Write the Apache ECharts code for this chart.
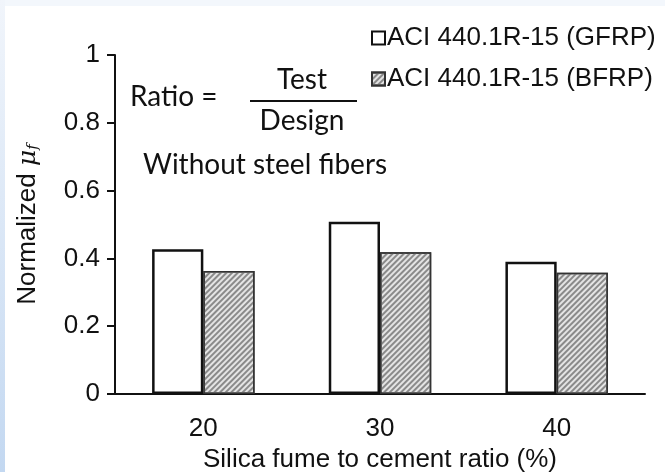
<!doctype html>
<html>
<head>
<meta charset="utf-8">
<script src="https://cdn.jsdelivr.net/npm/echarts@6/dist/echarts.min.js"></script>
<style>
  html,body{margin:0;padding:0;background:#fff}
  #chart{width:665px;height:472px}
</style>
</head>
<body>
<div id="chart"></div>
<script>
// silica fume to cement ratio (%)
const categories = ['20', '30', '40'];
// normalized friction coefficient, test / design
const gfrpValues = [0.427, 0.508, 0.390];
const bfrpValues = [0.363, 0.418, 0.358];
const seriesNames = ['ACI 440.1R-15 (GFRP)', 'ACI 440.1R-15 (BFRP)'];
const yTicks = [0, 0.2, 0.4, 0.6, 0.8, 1];

const font = 'Liberation Sans, Arial, sans-serif';
const noteFont = 'Lato, "Open Sans", sans-serif';

const chart = echarts.init(document.getElementById('chart'), null, { renderer: 'canvas' });

const hatch = {
  symbol: 'rect',
  color: '#8a8a8a',
  dashArrayX: [1, 0],
  dashArrayY: [1.2, 1.8],
  rotation: -Math.PI / 4,
  symbolSize: 1
};

chart.setOption({
  backgroundColor: '#fff',
  animation: false,
  textStyle: { fontFamily: font },
  grid: { left: 115, right: 20, top: 55, bottom: 78, outerBoundsMode: 'none', containLabel: false },
  legend: {
    orient: 'vertical',
    left: 366,
    top: 20,
    itemGap: 15,
    itemWidth: 13,
    itemHeight: 13,
    icon: 'rect',
    data: seriesNames,
    textStyle: { fontFamily: font, fontSize: 26, color: '#111', padding: [0, 0, 0, -3] }
  },
  xAxis: {
    type: 'category',
    data: categories,
    name: 'Silica fume to cement ratio (%)',
    nameLocation: 'middle',
    nameGap: 43,
    nameTextStyle: { fontFamily: font, fontSize: 26, color: '#111', verticalAlign: 'top' },
    axisLine: { lineStyle: { color: '#111', width: 2 } },
    axisTick: { length: 9, lineStyle: { color: '#111', width: 2 } },
    axisLabel: { fontSize: 26, color: '#111', margin: 22 }
  },
  yAxis: {
    type: 'value',
    min: yTicks[0],
    max: yTicks[yTicks.length - 1],
    interval: 0.2,
    name: '{n|Normalized }{m|μ}{s|f}',
    nameLocation: 'middle',
    nameGap: 74,
    nameRotate: 90,
    nameTextStyle: {
      rich: {
        n: { fontFamily: font, fontSize: 26, color: '#111' },
        m: { fontFamily: 'DejaVu Serif, serif', fontStyle: 'italic', fontSize: 25, color: '#111' },
        s: { fontFamily: 'DejaVu Serif, serif', fontStyle: 'italic', fontSize: 15, color: '#111', verticalAlign: 'bottom', padding: [10, 0, 0, 0] }
      }
    },
    axisLine: { show: true, lineStyle: { color: '#111', width: 2 } },
    axisTick: { show: true, inside: false, length: 8, lineStyle: { color: '#111', width: 2 } },
    splitLine: { show: false },
    axisLabel: {
      fontSize: 26, color: '#111', margin: 15,
      formatter: v => String(Math.round(v * 10) / 10)
    }
  },
  series: [
    {
      name: seriesNames[0],
      type: 'bar',
      data: gfrpValues,
      barGap: '0%',
      barCategoryGap: '42%',
      itemStyle: { color: '#fff', borderColor: '#111', borderWidth: 2.5 }
    },
    {
      name: seriesNames[1],
      type: 'bar',
      data: bfrpValues,
      itemStyle: { color: '#e4e4e4', borderColor: '#333', borderWidth: 1.5, decal: hatch }
    }
  ],
  graphic: [
    // light blue slide frame on the left and top
    { type: 'rect', left: 0, top: 0, z: -10, shape: { width: 665, height: 6 }, style: { fill: '#f3f7fc' } },
    {
      type: 'rect', left: 0, top: 0, z: -9, shape: { width: 5, height: 472 },
      style: {
        fill: new echarts.graphic.LinearGradient(0, 0, 0, 1, [
          { offset: 0, color: '#f1f5fb' },
          { offset: 1, color: '#c3d8f1' }
        ])
      }
    },
    { type: 'text', x: 130, y: 97, style: { text: 'Ratio =', font: '28px ' + noteFont, fill: '#111', verticalAlign: 'middle' } },
    { type: 'text', x: 302, y: 80, style: { text: 'Test', font: '28px ' + noteFont, fill: '#111', align: 'center', verticalAlign: 'middle' } },
    { type: 'line', shape: { x1: 250, y1: 101, x2: 357, y2: 101 }, style: { stroke: '#111', lineWidth: 2 } },
    { type: 'text', x: 302, y: 121, style: { text: 'Design', font: '28px ' + noteFont, fill: '#111', align: 'center', verticalAlign: 'middle' } },
    { type: 'text', x: 143, y: 165, style: { text: 'Without steel fibers', font: '28px ' + noteFont, fill: '#111', verticalAlign: 'middle' } }
  ]
});
</script>
</body>
</html>
